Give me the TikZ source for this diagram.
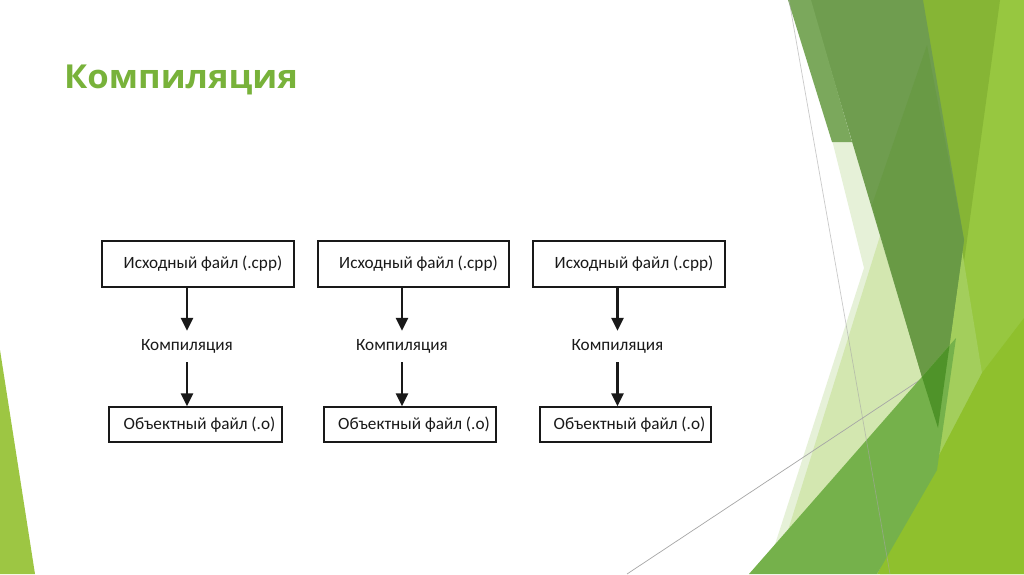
\documentclass[tikz,border=0pt]{standalone}
\usepackage{fontspec}
\setmainfont{Carlito}
\newfontfamily\titlefont[FakeStretch=1.05]{Open Sans}
\usetikzlibrary{arrows.meta}
\definecolor{titlegreen}{RGB}{120,178,58}
\definecolor{gbase}{RGB}{151,199,64}
\definecolor{gyellow}{RGB}{134,181,53}
\definecolor{gstripe}{RGB}{163,206,92}
\definecolor{gbright}{RGB}{143,192,45}
\definecolor{gpale}{RGB}{230,241,216}
\definecolor{gpalemid}{RGB}{211,231,176}
\definecolor{gmuted}{RGB}{111,157,79}
\definecolor{gmutedlight}{RGB}{123,168,92}
\definecolor{gmuteddark}{RGB}{105,154,69}
\definecolor{gmedium}{RGB}{117,177,75}
\definecolor{gdark}{RGB}{79,147,41}
\definecolor{gleft}{RGB}{157,198,67}
\definecolor{inkc}{RGB}{25,25,25}
\begin{document}
\begin{tikzpicture}[x=1pt,y=-1pt,
  boxnode/.style={draw=inkc, line width=1.3pt, inner sep=0pt, font=\fontsize{17.2}{20}\selectfont, text=inkc},
  lbl/.style={inner sep=0pt, minimum height=31pt, font=\fontsize{17.2}{20}\selectfont, text=inkc},
  flow/.style={draw=inkc, line width=2.8pt, -{Triangle[width=12pt,length=13pt]}},
  thinline/.style={draw=black!35, line width=0.7pt}]
\useasboundingbox (0,0) rectangle (1024,574);
\fill[white] (0,0) rectangle (1024,574);
% background decoration
\fill[gleft] (0,350) -- (35,574) -- (0,574) -- cycle;
\fill[gbase] (990,0) -- (1024,0) -- (1024,574) -- (880,574) -- (960,250) -- cycle;
\fill[gyellow] (915,0) -- (1000,0) -- (964,262) -- cycle;
\fill[gstripe] (962,250) -- (982,373) -- (937,468) -- (936,430) -- cycle;
\fill[gbright] (877,574) -- (982,373) -- (1024,318) -- (1024,574) -- cycle;
\fill[gpale] (832,140) -- (862,140) -- (930,390) -- (770,560) -- (864,268) -- cycle;
\fill[gpalemid] (880,236) -- (925,380) -- (785,540) -- cycle;
\draw[thinline] (627,574) -- (920,380);
\fill[gmuted] (810,0) -- (923,0) -- (964,240) -- (938,428) -- (922,377) -- cycle;
\fill[gmutedlight] (788,0) -- (811,0) -- (852,142) -- (832,142) -- cycle;
\fill[gmuteddark] (927,45) -- (964,240) -- (938,428) -- (922,377) -- (872,205) -- cycle;
\fill[gmedium] (749,574) -- (956,338) -- (937,470) -- (877,574) -- cycle;
\fill[gdark] (922,377) -- (949.5,345.5) -- (938,428) -- cycle;
\draw[thinline, draw opacity=0.6] (789,0) -- (890,574);
% title
\node[anchor=base west, inner sep=0pt, font=\titlefont\bfseries\fontsize{33}{38}\selectfont, text=titlegreen] (title) at (64,88) {Компиляция};
% column 1
\node[boxnode, minimum width=192pt, minimum height=46pt] (s1) at (198,264) {\hspace*{10pt}Исходный файл (.cpp)};
\node[lbl] (c1) at (187,346.5) {Компиляция};
\node[boxnode, minimum width=173pt, minimum height=35pt] (o1) at (195.5,424.5) {\hspace*{8pt}Объектный файл (.o)};
\draw[flow] (c1.north |- s1.south) -- (c1.north);
\draw[flow] (c1.south) -- (c1.south |- o1.north);
% column 2
\node[boxnode, minimum width=191pt, minimum height=46pt] (s2) at (413.5,264) {\hspace*{10pt}Исходный файл (.cpp)};
\node[lbl] (c2) at (402,346.5) {Компиляция};
\node[boxnode, minimum width=172pt, minimum height=35pt] (o2) at (410,424.5) {\hspace*{8pt}Объектный файл (.o)};
\draw[flow] (c2.north |- s2.south) -- (c2.north);
\draw[flow] (c2.south) -- (c2.south |- o2.north);
% column 3
\node[boxnode, minimum width=192pt, minimum height=46pt] (s3) at (629,264) {\hspace*{10pt}Исходный файл (.cpp)};
\node[lbl] (c3) at (617.5,346.5) {Компиляция};
\node[boxnode, minimum width=171pt, minimum height=35pt] (o3) at (625.5,424.5) {\hspace*{8pt}Объектный файл (.o)};
\draw[flow] (c3.north |- s3.south) -- (c3.north);
\draw[flow] (c3.south) -- (c3.south |- o3.north);
\end{tikzpicture}
\end{document}
